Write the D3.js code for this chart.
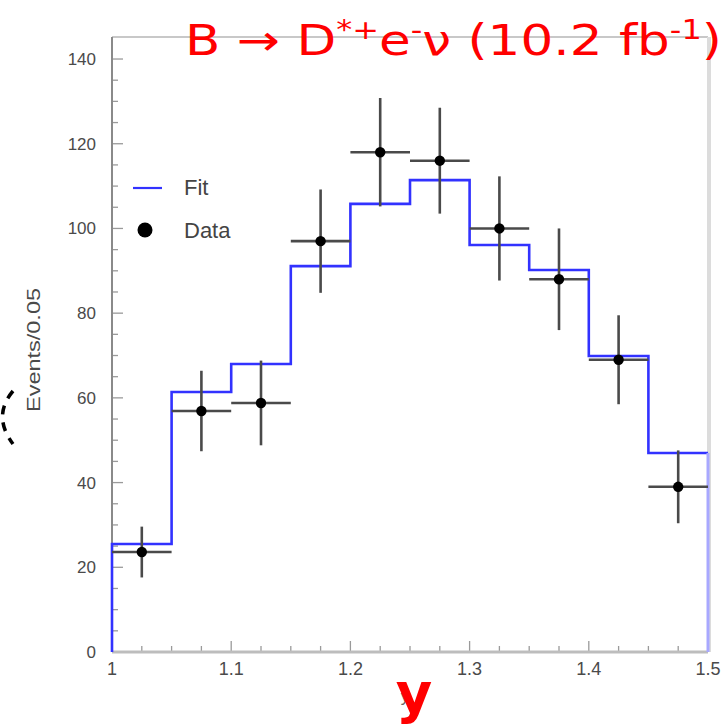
<!DOCTYPE html>
<html>
<head>
<meta charset="utf-8">
<script src="https://cdn.jsdelivr.net/npm/d3@7"></script>
<style>
  html, body { margin: 0; padding: 0; background: #fff; }
  svg { display: block; }
</style>
</head>
<body>
<svg id="chart" width="724" height="726"></svg>
<script>
// Bin edges of the y distribution (width 0.05)
const binEdges = [1.0, 1.05, 1.1, 1.15, 1.2, 1.25, 1.3, 1.35, 1.4, 1.45, 1.5];
// Fitted histogram content per bin
const fitValues = [25.5, 61.4, 68.0, 91.1, 105.8, 111.4, 96.1, 90.2, 69.9, 47.0];
// Measured events per bin and their uncertainties
const dataValues = [23.6, 56.9, 58.8, 97.0, 118.0, 116.0, 100.0, 88.0, 69.0, 39.0];
const dataErrors = [6.0, 9.5, 10.0, 12.2, 12.8, 12.5, 12.3, 12.0, 10.5, 8.6];
// Axis tick labels
const xTicks = [1.0, 1.1, 1.2, 1.3, 1.4, 1.5];
const yTicks = [0, 20, 40, 60, 80, 100, 120, 140];

const svg = d3.select("#chart");
const plotLeft = 112, plotRight = 708, plotTop = 37, plotBottom = 652;

const x = d3.scaleLinear().domain([1.0, 1.5]).range([plotLeft, plotRight]);
const y = d3.scaleLinear().domain([0, 145.2]).range([plotBottom, plotTop]);

// Frame
svg.append("line").attr("x1", plotLeft).attr("x2", plotRight).attr("y1", plotTop).attr("y2", plotTop)
  .attr("stroke", "#c8c8c8").attr("stroke-width", 2);
svg.append("line").attr("x1", plotRight + 1).attr("x2", plotRight + 1).attr("y1", plotTop).attr("y2", plotBottom)
  .attr("stroke", "#dcdcdc").attr("stroke-width", 4);

// Minor / major ticks pointing into the plot
const gy = svg.append("g");
d3.range(0, 145, 5).forEach(v => {
  const major = v % 20 === 0;
  gy.append("line").attr("x1", plotLeft).attr("x2", plotLeft + (major ? 11 : 6))
    .attr("y1", y(v)).attr("y2", y(v))
    .attr("stroke", "#9a9a9a").attr("stroke-width", 1.3);
});
const gx = svg.append("g");
d3.range(0, 21).forEach(i => {
  const v = 1 + i * 0.025;
  const major = i % 4 === 0;
  gx.append("line").attr("x1", x(v)).attr("x2", x(v))
    .attr("y1", plotBottom).attr("y2", plotBottom - (major ? 11 : 6))
    .attr("stroke", "#9a9a9a").attr("stroke-width", 1.3);
});

// Axis lines
svg.append("line").attr("x1", plotLeft).attr("x2", plotLeft).attr("y1", plotTop).attr("y2", plotBottom)
  .attr("stroke", "#8a8a8a").attr("stroke-width", 2);
svg.append("line").attr("x1", plotLeft).attr("x2", plotRight).attr("y1", plotBottom).attr("y2", plotBottom)
  .attr("stroke", "#bdbdbd").attr("stroke-width", 3);

// Tick labels
const tickFont = "'Liberation Sans', Arial, sans-serif";
svg.append("g").selectAll("text").data(yTicks).join("text")
  .attr("x", 96).attr("y", d => y(d) + 6)
  .attr("text-anchor", "end")
  .attr("font-family", tickFont).attr("font-size", 17).attr("fill", "#4a4a4a")
  .text(d => d);
svg.append("g").selectAll("text").data(xTicks).join("text")
  .attr("x", d => x(d)).attr("y", 675)
  .attr("text-anchor", "middle")
  .attr("font-family", tickFont).attr("font-size", 18).attr("fill", "#4a4a4a")
  .text(d => String(d));

// Axis titles
svg.append("text")
  .attr("transform", "translate(40,350) rotate(-90)")
  .attr("text-anchor", "middle")
  .attr("font-family", tickFont).attr("font-size", 19).attr("fill", "#4a4a4a")
  .attr("textLength", 124).attr("lengthAdjust", "spacingAndGlyphs")
  .text("Events/0.05");
svg.append("text")
  .attr("x", 405).attr("y", 702).attr("text-anchor", "middle")
  .attr("font-family", tickFont).attr("font-size", 17).attr("fill", "#666")
  .text("y");

// Fit histogram as a step outline
const pts = [[binEdges[0], 0]];
fitValues.forEach((v, i) => { pts.push([binEdges[i], v]); pts.push([binEdges[i + 1], v]); });
const stepLine = d3.line().x(d => x(d[0])).y(d => y(d[1]));
svg.append("path").datum(pts).attr("d", stepLine)
  .attr("fill", "none").attr("stroke", "#3232ff").attr("stroke-width", 2.6);
svg.append("path").datum([[1.5, fitValues[fitValues.length - 1]], [1.5, 0]]).attr("d", stepLine)
  .attr("fill", "none").attr("stroke", "#a8a8ff").attr("stroke-width", 3);

// Data points with error bars
const centers = binEdges.slice(0, -1).map((e, i) => (e + binEdges[i + 1]) / 2);
const gd = svg.append("g");
dataValues.forEach((v, i) => {
  gd.append("line").attr("x1", x(binEdges[i])).attr("x2", x(binEdges[i + 1]))
    .attr("y1", y(v)).attr("y2", y(v))
    .attr("stroke", "#4a4a4a").attr("stroke-width", 2.6);
  gd.append("line").attr("x1", x(centers[i])).attr("x2", x(centers[i]))
    .attr("y1", y(v - dataErrors[i])).attr("y2", y(v + dataErrors[i]))
    .attr("stroke", "#4a4a4a").attr("stroke-width", 2.6);
  gd.append("circle").attr("cx", x(centers[i])).attr("cy", y(v)).attr("r", 5.2).attr("fill", "#000");
});

// Legend
svg.append("line").attr("x1", 133).attr("x2", 162).attr("y1", 188).attr("y2", 188)
  .attr("stroke", "#3232ff").attr("stroke-width", 2.2);
svg.append("circle").attr("cx", 145).attr("cy", 230).attr("r", 7.5).attr("fill", "#000");
svg.append("text").attr("x", 184).attr("y", 195)
  .attr("font-family", tickFont).attr("font-size", 22).attr("fill", "#444").text("Fit");
svg.append("text").attr("x", 184).attr("y", 238)
  .attr("font-family", tickFont).attr("font-size", 22).attr("fill", "#444").text("Data");

// Clipped bracket mark at the left edge
svg.append("path")
  .attr("d", "M13,391 Q-8,416 13,444")
  .attr("fill", "none").attr("stroke", "#000").attr("stroke-width", 3.5)
  .attr("stroke-dasharray", "9,8");

// Red annotation title
const title = svg.append("text")
  .attr("x", 185).attr("y", 55)
  .attr("font-family", "'DejaVu Sans', sans-serif").attr("font-size", 42)
  .attr("fill", "#ff0000");
title.append("tspan").text("B \u2192 D");
title.append("tspan").attr("dy", -16).attr("font-size", 26).text("*+");
title.append("tspan").attr("dy", 16).text("e");
title.append("tspan").attr("dy", -16).attr("font-size", 26).text("-");
title.append("tspan").attr("dy", 16).text("\u03bd (10.2 fb");
title.append("tspan").attr("dy", -16).attr("font-size", 26).text("-1");
title.append("tspan").attr("dy", 16).text(")");
const tw = title.node().getComputedTextLength();
if (tw > 0) {
  const sx = 537 / tw;
  title.attr("transform", `translate(185,0) scale(${sx},1) translate(-185,0)`);
}

// Big red x-axis letter
svg.append("text")
  .attr("x", 414).attr("y", 712).attr("text-anchor", "middle")
  .attr("font-family", "'DejaVu Sans', sans-serif").attr("font-weight", "bold")
  .attr("font-size", 56).attr("fill", "#ff0000")
  .text("y");
</script>
</body>
</html>
